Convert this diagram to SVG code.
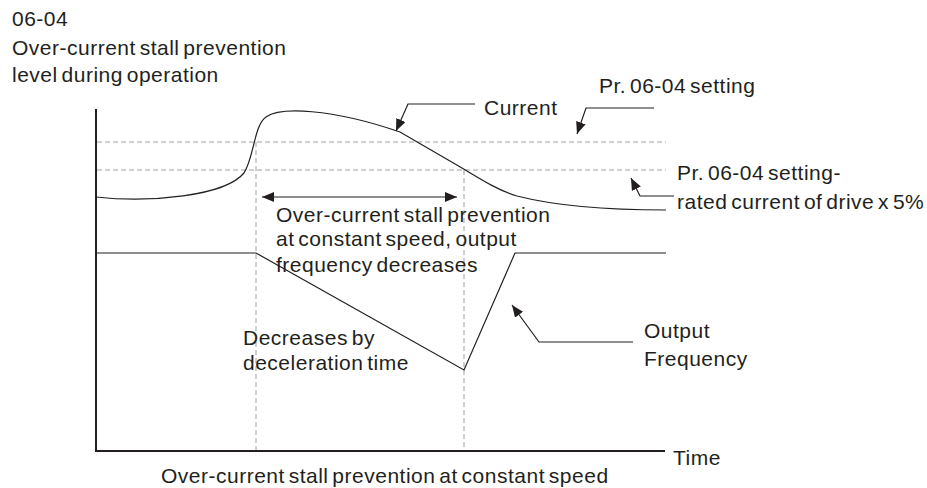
<svg xmlns="http://www.w3.org/2000/svg" width="927" height="488" viewBox="0 0 927 488">
<style>
text{font-family:"Liberation Sans",Arial,sans-serif;font-size:21px;fill:#231f20;letter-spacing:0.5px;word-spacing:-2.5px}
.ln{fill:none;stroke:#231f20;stroke-width:1.2}
.ax{fill:none;stroke:#231f20;stroke-width:2}
.dash{fill:none;stroke:#a0a0a0;stroke-width:1;stroke-dasharray:5 3}
</style>
<defs>
<marker id="ah" viewBox="0 0 12 10" refX="12" refY="5" markerWidth="12" markerHeight="10" markerUnits="userSpaceOnUse" orient="auto-start-reverse">
<path d="M0,0 L12,5 L0,10 Z" fill="#231f20"/>
</marker>
</defs>
<rect width="927" height="488" fill="#fff"/>
<g id="title">
<text x="12" y="26">06-04</text>
<text x="12" y="55">Over-current stall prevention</text>
<text x="12" y="82">level during operation</text>
</g>
<g id="grid">
<line class="dash" x1="97" y1="142" x2="666" y2="142"/>
<line class="dash" x1="97" y1="170" x2="666" y2="170"/>
<line class="dash" x1="256" y1="142" x2="256" y2="450"/>
<line class="dash" x1="464" y1="170" x2="464" y2="450"/>
</g>
<g id="axes">
<line class="ax" x1="96" y1="109" x2="96" y2="452"/>
<line class="ax" x1="95" y1="451" x2="665" y2="451"/>
</g>
<g id="current-curve">
<path class="ln" d="M96,197 C150,203 225,196 244,173 C254,158 254,125 266,117 C280,107 330,108 400,132 L462,168 C485,182 500,191 517,196 C560,207 610,210 666,210"/>
</g>
<g id="frequency-curve">
<path class="ln" d="M96,253 L256,253 L464,370 L515,253 L666,253"/>
</g>
<g id="connectors">
<line class="ln" x1="262" y1="197" x2="457" y2="197" marker-start="url(#ah)" marker-end="url(#ah)"/>
<path class="ln" d="M475,104 L408,104 L396,131" marker-end="url(#ah)"/>
<path class="ln" d="M654,108 L586,108 L577,134" marker-end="url(#ah)"/>
<path class="ln" d="M674,196 L640,196 L631,178" marker-end="url(#ah)"/>
<path class="ln" d="M633,342 L539,342 L512,305" marker-end="url(#ah)"/>
</g>
<g id="label-current"><text x="484" y="115">Current</text></g>
<g id="label-setting"><text x="599" y="93">Pr. 06-04 setting</text></g>
<g id="label-setting-minus">
<text x="677" y="180">Pr. 06-04 setting-</text>
<text x="677" y="209">rated current of drive x 5%</text>
</g>
<g id="label-stall">
<text x="276" y="222">Over-current stall prevention</text>
<text x="276" y="246">at constant speed, output</text>
<text x="276" y="272">frequency decreases</text>
</g>
<g id="label-decel">
<text x="243" y="345">Decreases by</text>
<text x="243" y="370">deceleration time</text>
</g>
<g id="label-output">
<text x="644" y="338">Output</text>
<text x="644" y="366">Frequency</text>
</g>
<g id="label-time"><text x="673" y="465">Time</text></g>
<g id="caption"><text x="161" y="483">Over-current stall prevention at constant speed</text></g>
</svg>
